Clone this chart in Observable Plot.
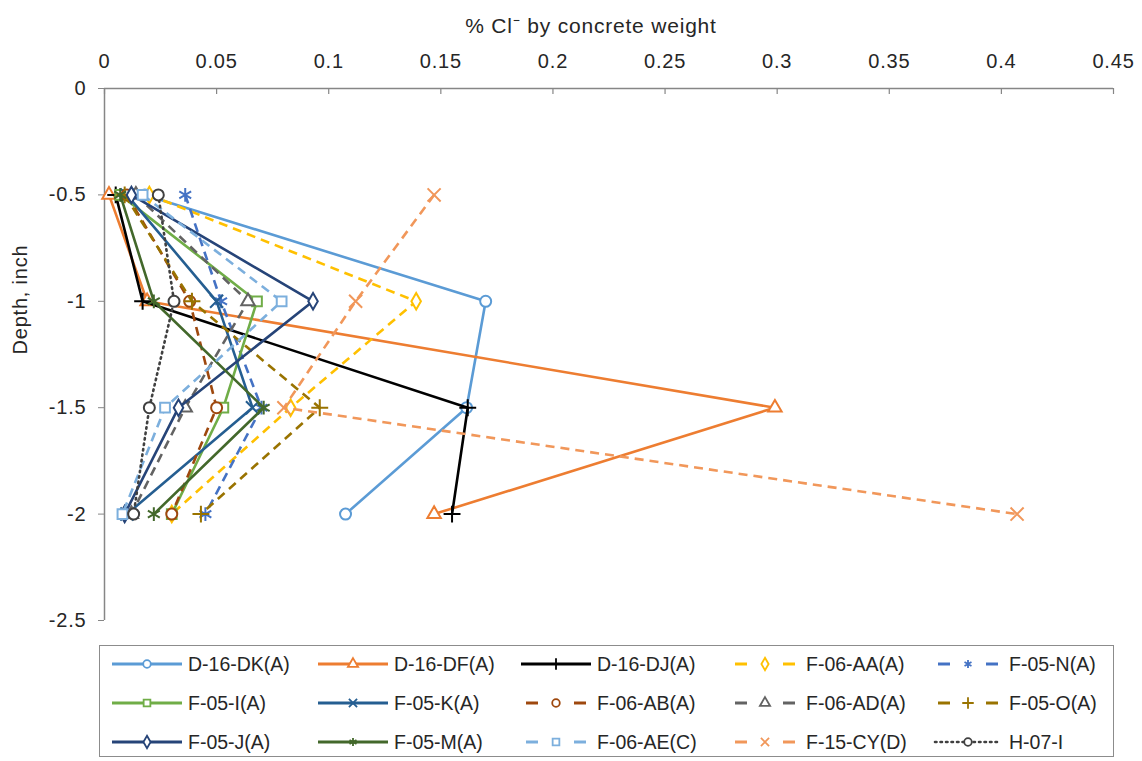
<!DOCTYPE html>
<html><head><meta charset="utf-8">
<script src="https://cdn.jsdelivr.net/npm/d3@7"></script>
<script src="https://cdn.jsdelivr.net/npm/@observablehq/plot@0.6"></script>
<style>
body{margin:0;background:#fff;font-family:"Liberation Sans",Arial,sans-serif;}
#legend{position:absolute;left:99px;top:645px;width:1015px;height:112px;border:1.5px solid #8c8c8c;box-sizing:border-box;}
.item{position:absolute;display:flex;align-items:center;font-size:19.5px;color:#262626;height:22px;}
.item svg{margin-right:6px;}
svg text{letter-spacing:0.8px;}
</style></head><body><div id="chart"></div><div id="legend"></div>
<script>
const depths = [-0.5, -1, -1.5, -2];
const xTicks = [0, 0.05, 0.1, 0.15, 0.2, 0.25, 0.3, 0.35, 0.4, 0.45];
const yTicks = [0, -0.5, -1, -1.5, -2, -2.5];

const D16DK = [0.018, 0.170, 0.1615, 0.1075];
const D16DF = [0.002, 0.019, 0.299, 0.147];
const D16DJ = [0.005, 0.017, 0.162, 0.155];
const F06AA = [0.020, 0.139, 0.083, 0.030];
const F05N  = [0.036, 0.052, 0.070, 0.045];
const F05I  = [0.007, 0.068, 0.053, 0.030];
const F05K  = [0.010, 0.050, 0.066, 0.010];
const F06AB = [0.010, 0.038, 0.050, 0.030];
const F06AD = [0.014, 0.064, 0.036, 0.012];
const F05O  = [0.009, 0.039, 0.096, 0.043];
const F05J  = [0.012, 0.093, 0.033, 0.009];
const F05M  = [0.007, 0.022, 0.071, 0.022];
const F06AE = [0.017, 0.079, 0.027, 0.008];
const F15CY = [0.147, 0.112, 0.080, 0.407];
const H07I  = [0.024, 0.031, 0.020, 0.013];

const names = ["D-16-DK(A)","D-16-DF(A)","D-16-DJ(A)","F-06-AA(A)","F-05-N(A)",
               "F-05-I(A)","F-05-K(A)","F-06-AB(A)","F-06-AD(A)","F-05-O(A)",
               "F-05-J(A)","F-05-M(A)","F-06-AE(C)","F-15-CY(D)","H-07-I"];
const values = [D16DK,D16DF,D16DJ,F06AA,F05N,F05I,F05K,F06AB,F06AD,F05O,F05J,F05M,F06AE,F15CY,H07I];
const colors = ["#5B9BD5","#ED7D31","#000000","#FFC000","#4472C4",
                "#70AD47","#255E91","#9E480E","#636363","#997300",
                "#264478","#43682B","#7CAFDD","#F1975A","#404040"];
const styles = ["solid","solid","solid","dash","dash",
                "solid","solid","dash","dash","dash",
                "solid","solid","dash","dash","dot"];
const symbols = ["circle","triangle","plus","diamond","asterisk",
                 "square","times","circle","triangle","plus",
                 "diamond","asterisk","square","times","circle"];

const dashArr = {solid: null, dash: "9,6", dot: "1.5,4"};
const symMap = {circle: d3.symbolCircle, triangle: d3.symbolTriangle, plus: d3.symbolPlus,
  diamond: d3.symbolDiamond, asterisk: d3.symbolAsterisk, square: d3.symbolSquare, times: d3.symbolTimes};
const symR = {circle: 5.5, triangle: 5, plus: 5.5, diamond: 5, asterisk: 6.5, square: 5.5, times: 6};

const marks = [];
values.forEach((vals, i) => {
  const rows = vals.map((v, k) => ({x: v, y: depths[k]}));
  marks.push(Plot.line(rows, {x: "x", y: "y", stroke: colors[i], strokeWidth: 2.6,
    strokeDasharray: dashArr[styles[i]], strokeLinecap: styles[i] === "dot" ? "round" : "butt"}));
  marks.push(Plot.dot(rows, {x: "x", y: "y", stroke: colors[i], fill: "white", r: symR[symbols[i]],
    strokeWidth: 2, symbol: symbols[i]}));
});

const chart = Plot.plot({
  width: 1142, height: 640,
  marginTop: 88, marginLeft: 104, marginRight: 29, marginBottom: 20,
  style: {fontFamily: "Liberation Sans, Arial, sans-serif", fontSize: "20px", color: "#262626", background: "white"},
  x: {domain: [0, 0.45], axis: null},
  y: {domain: [-2.5, 0], axis: null},
  marks: [
    Plot.axisX({anchor: "top", ticks: xTicks, tickSize: 0, tickPadding: 21, tickFormat: d => String(d), label: null}),
    Plot.tickX(xTicks, {x: d => d, frameAnchor: "top", stroke: "#868686", strokeWidth: 1.2, insetTop: 0, insetBottom: 526}),
    Plot.axisY({anchor: "left", ticks: yTicks, tickSize: 6, tickPadding: 12, tickFormat: d => String(d), label: null, stroke: "#868686"}),
    Plot.ruleX([0], {stroke: "#868686", strokeWidth: 1.5}),
    Plot.ruleY([0], {stroke: "#868686", strokeWidth: 1.5}),
    ...marks,
    Plot.text(["% Cl\u207B by concrete weight"], {frameAnchor: "top", dy: -70, dx: -18, fontSize: 21, fill: "#262626"}),
    Plot.text(["Depth, inch"], {frameAnchor: "left", rotate: -90, dx: -84, fontSize: 20, fill: "#262626"})
  ]
});
document.getElementById("chart").appendChild(chart);

// Legend
const legend = d3.select("#legend");
const colX = [12, 218, 421, 630, 833];
const rowY = [7, 46, 85];
names.forEach((name, i) => {
  const item = legend.append("div").attr("class", "item")
    .style("left", colX[i % 5] + "px").style("top", rowY[Math.floor(i / 5)] + "px");
  const svg = item.append("svg").attr("width", 70).attr("height", 20);
  if (styles[i] === "solid") {
    svg.append("line").attr("x1", 0).attr("x2", 70).attr("y1", 10).attr("y2", 10)
      .attr("stroke", colors[i]).attr("stroke-width", 3);
  } else if (styles[i] === "dash") {
    [[5, 17], [53, 65]].forEach(([a, b]) => svg.append("line").attr("x1", a).attr("x2", b)
      .attr("y1", 10).attr("y2", 10).attr("stroke", colors[i]).attr("stroke-width", 3));
  } else {
    svg.append("line").attr("x1", 2).attr("x2", 68).attr("y1", 10).attr("y2", 10)
      .attr("stroke", colors[i]).attr("stroke-width", 2.6).attr("stroke-dasharray", "1.5,4")
      .attr("stroke-linecap", "round");
  }
  svg.append("path").attr("transform", "translate(35,10)")
    .attr("d", d3.symbol(symMap[symbols[i]], 45)())
    .attr("fill", "white").attr("stroke", colors[i]).attr("stroke-width", 1.8);
  item.append("span").text(name);
});
</script>
</body></html>
